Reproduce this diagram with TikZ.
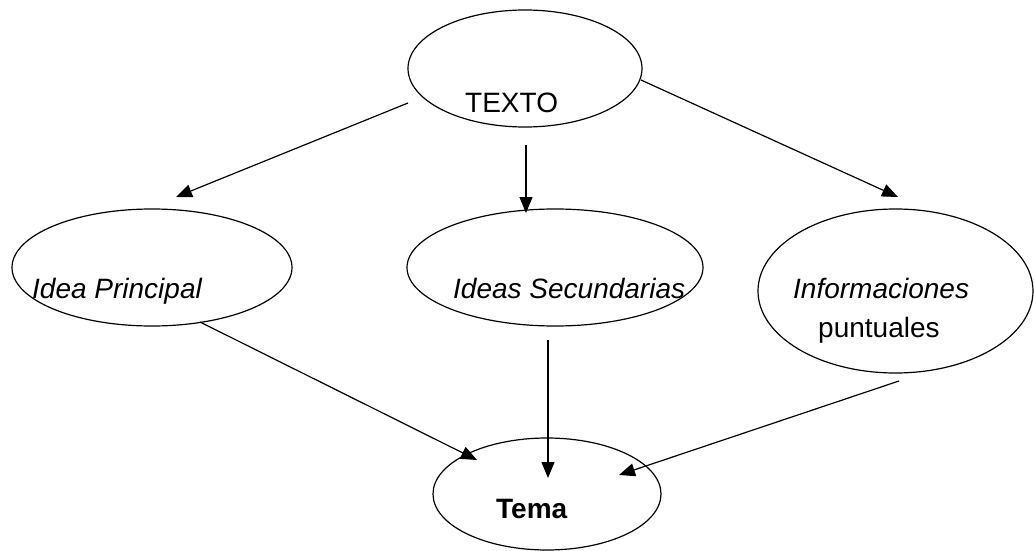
\documentclass[tikz,border=0pt]{standalone}
\usepackage{fontspec}
\setmainfont{Liberation Sans}
\usetikzlibrary{shapes.geometric,arrows.meta}
\tikzset{
  bubble/.style={ellipse, draw, line width=1.2pt, inner sep=0pt},
  txt/.style={anchor=base west, inner sep=0pt, font=\fontsize{28}{34}\selectfont},
  link/.style={line width=1.2pt, -{Triangle[length=16pt,width=13pt]}}
}
\begin{document}
\begin{tikzpicture}[x=1pt, y=-1pt]
\useasboundingbox (0,0) rectangle (1034,551);

% ellipses
\node[bubble, minimum width=234pt, minimum height=117pt] (texto) at (525,68.5) {};
\node[bubble, minimum width=280pt, minimum height=117pt] (ip) at (152,267.5) {};
\node[bubble, minimum width=296pt, minimum height=117pt] (is) at (555,267.5) {};
\node[bubble, minimum width=275pt, minimum height=164pt] (inf) at (895.5,291) {};
\node[bubble, minimum width=228pt, minimum height=112pt] (tema) at (547,494) {};

% labels
\node[txt] (ltexto) at (465,112) {TEXTO};
\node[txt] (lip) at (32,298) {\itshape Idea Principal};
\node[txt] (lis) at (453,298) {\itshape Ideas Secundarias};
\node[txt] (linf) at (793,298) {\itshape Informaciones};
\node[txt] (lpunt) at (818,337) {puntuales};
\node[txt] (ltema) at (496,518) {\bfseries Tema};

% connector ends
\coordinate (t1) at (408,103);
\coordinate (t2) at (526,145);
\coordinate (t3) at (641,80);
\coordinate (ipin) at (176,197);
\coordinate (isin) at (526,213);
\coordinate (infin) at (898,197);
\coordinate (ipout) at (200,322);
\coordinate (isout) at (548,340);
\coordinate (infout) at (899,381);
\coordinate (tm1) at (477,460);
\coordinate (tm2) at (548,478);
\coordinate (tm3) at (619,475);

% connectors
\draw[link] (t1) -- (ipin);
\draw[link] (t2) -- (isin);
\draw[link] (t3) -- (infin);
\draw[link] (ipout) -- (tm1);
\draw[link] (isout) -- (tm2);
\draw[link] (infout) -- (tm3);
\end{tikzpicture}
\end{document}
